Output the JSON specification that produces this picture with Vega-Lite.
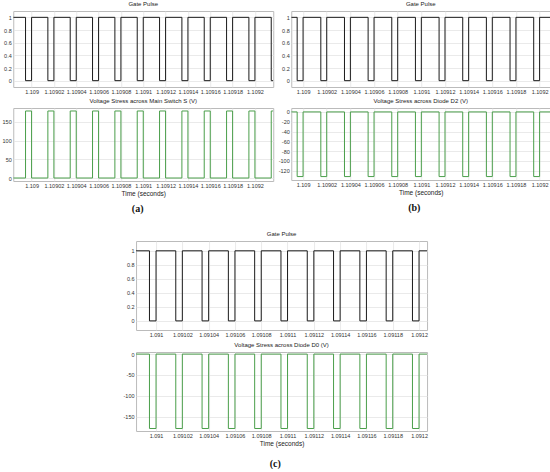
{
  "$schema": "https://vega.github.io/schema/vega-lite/v6.json",
  "padding": {"top": 0, "left": 1, "right": 0, "bottom": 0},
  "background": "white",
  "datasets": {
    "a": [
      {"t": 1.1089836, "g": 1, "v": 0},
      {"t": 1.1089946, "g": 0, "v": 179}, {"t": 1.1090000, "g": 1, "v": 0},
      {"t": 1.1090146, "g": 0, "v": 179}, {"t": 1.1090200, "g": 1, "v": 0},
      {"t": 1.1090346, "g": 0, "v": 179}, {"t": 1.1090400, "g": 1, "v": 0},
      {"t": 1.1090546, "g": 0, "v": 179}, {"t": 1.1090600, "g": 1, "v": 0},
      {"t": 1.1090746, "g": 0, "v": 179}, {"t": 1.1090800, "g": 1, "v": 0},
      {"t": 1.1090946, "g": 0, "v": 179}, {"t": 1.1091000, "g": 1, "v": 0},
      {"t": 1.1091146, "g": 0, "v": 179}, {"t": 1.1091200, "g": 1, "v": 0},
      {"t": 1.1091346, "g": 0, "v": 179}, {"t": 1.1091400, "g": 1, "v": 0},
      {"t": 1.1091546, "g": 0, "v": 179}, {"t": 1.1091600, "g": 1, "v": 0},
      {"t": 1.1091746, "g": 0, "v": 179}, {"t": 1.1091800, "g": 1, "v": 0},
      {"t": 1.1091946, "g": 0, "v": 179}, {"t": 1.1092000, "g": 1, "v": 0},
      {"t": 1.1092146, "g": 0, "v": 179}, {"t": 1.1092164, "g": 0, "v": 179}
    ],
    "b": [
      {"t": 1.1089900, "g": 1, "v": 0},
      {"t": 1.1089950, "g": 0, "v": -132}, {"t": 1.1090000, "g": 1, "v": 0},
      {"t": 1.1090150, "g": 0, "v": -132}, {"t": 1.1090200, "g": 1, "v": 0},
      {"t": 1.1090350, "g": 0, "v": -132}, {"t": 1.1090400, "g": 1, "v": 0},
      {"t": 1.1090550, "g": 0, "v": -132}, {"t": 1.1090600, "g": 1, "v": 0},
      {"t": 1.1090750, "g": 0, "v": -132}, {"t": 1.1090800, "g": 1, "v": 0},
      {"t": 1.1090950, "g": 0, "v": -132}, {"t": 1.1091000, "g": 1, "v": 0},
      {"t": 1.1091150, "g": 0, "v": -132}, {"t": 1.1091200, "g": 1, "v": 0},
      {"t": 1.1091350, "g": 0, "v": -132}, {"t": 1.1091400, "g": 1, "v": 0},
      {"t": 1.1091550, "g": 0, "v": -132}, {"t": 1.1091600, "g": 1, "v": 0},
      {"t": 1.1091750, "g": 0, "v": -132}, {"t": 1.1091800, "g": 1, "v": 0},
      {"t": 1.1091950, "g": 0, "v": -132}, {"t": 1.1092000, "g": 1, "v": 0},
      {"t": 1.1092090, "g": 1, "v": 0}
    ],
    "c": [
      {"t": 1.0909848, "g": 1, "v": 0},
      {"t": 1.0909950, "g": 0, "v": -178}, {"t": 1.0910000, "g": 1, "v": 0},
      {"t": 1.0910150, "g": 0, "v": -178}, {"t": 1.0910200, "g": 1, "v": 0},
      {"t": 1.0910350, "g": 0, "v": -178}, {"t": 1.0910400, "g": 1, "v": 0},
      {"t": 1.0910550, "g": 0, "v": -178}, {"t": 1.0910600, "g": 1, "v": 0},
      {"t": 1.0910750, "g": 0, "v": -178}, {"t": 1.0910800, "g": 1, "v": 0},
      {"t": 1.0910950, "g": 0, "v": -178}, {"t": 1.0911000, "g": 1, "v": 0},
      {"t": 1.0911150, "g": 0, "v": -178}, {"t": 1.0911200, "g": 1, "v": 0},
      {"t": 1.0911350, "g": 0, "v": -178}, {"t": 1.0911400, "g": 1, "v": 0},
      {"t": 1.0911550, "g": 0, "v": -178}, {"t": 1.0911600, "g": 1, "v": 0},
      {"t": 1.0911750, "g": 0, "v": -178}, {"t": 1.0911800, "g": 1, "v": 0},
      {"t": 1.0911950, "g": 0, "v": -178}, {"t": 1.0912000, "g": 1, "v": 0},
      {"t": 1.0912061, "g": 1, "v": 0}
    ]
  },
  "spacing": 16,
  "center": true,
  "vconcat": [
    {
      "spacing": 3,
      "hconcat": [
        {
          "spacing": 2,
          "title": {"text": "(a)", "orient": "bottom", "anchor": "middle", "font": "Liberation Serif", "fontSize": 10, "fontWeight": "bold", "color": "#111", "offset": 6},
          "vconcat": [
            {
              "width": 260, "height": 76,
              "title": "Gate Pulse",
              "data": {"name": "a"},
              "mark": {"type": "line", "interpolate": "step-after", "color": "#1a1a1a", "strokeWidth": 1, "clip": true},
              "encoding": {
                "x": {"field": "t", "type": "quantitative", "scale": {"domain": [1.1089836, 1.1092164], "nice": false, "zero": false},
                      "axis": {"values": [1.109, 1.10902, 1.10904, 1.10906, 1.10908, 1.1091, 1.10912, 1.10914, 1.10916, 1.10918, 1.1092], "format": ".6~g", "title": null}},
                "y": {"field": "g", "type": "quantitative", "scale": {"domain": [-0.1, 1.1], "nice": false, "zero": false},
                      "axis": {"values": [0, 0.2, 0.4, 0.6, 0.8, 1], "format": ".1~f", "title": null}}
              }
            },
            {
              "width": 260, "height": 73,
              "title": "Voltage Stress across Main Switch S (V)",
              "data": {"name": "a"},
              "mark": {"type": "line", "interpolate": "step-after", "color": "#4a9e4a", "strokeWidth": 1, "clip": true},
              "encoding": {
                "x": {"field": "t", "type": "quantitative", "scale": {"domain": [1.1089836, 1.1092164], "nice": false, "zero": false},
                      "axis": {"values": [1.109, 1.10902, 1.10904, 1.10906, 1.10908, 1.1091, 1.10912, 1.10914, 1.10916, 1.10918, 1.1092], "format": ".6~g", "title": "Time (seconds)"}},
                "y": {"field": "v", "type": "quantitative", "scale": {"domain": [-8, 187], "nice": false, "zero": false},
                      "axis": {"values": [0, 50, 100, 150], "format": "d", "title": null}}
              }
            }
          ]
        },
        {
          "spacing": 2,
          "title": {"text": "(b)", "orient": "bottom", "anchor": "middle", "font": "Liberation Serif", "fontSize": 10, "fontWeight": "bold", "color": "#111", "offset": 6},
          "vconcat": [
            {
              "width": 259, "height": 76,
              "title": "Gate Pulse",
              "data": {"name": "b"},
              "mark": {"type": "line", "interpolate": "step-after", "color": "#1a1a1a", "strokeWidth": 1, "clip": true},
              "encoding": {
                "x": {"field": "t", "type": "quantitative", "scale": {"domain": [1.10899, 1.109209], "nice": false, "zero": false},
                      "axis": {"values": [1.109, 1.10902, 1.10904, 1.10906, 1.10908, 1.1091, 1.10912, 1.10914, 1.10916, 1.10918, 1.1092], "format": ".6~g", "title": null}},
                "y": {"field": "g", "type": "quantitative", "scale": {"domain": [-0.1, 1.1], "nice": false, "zero": false},
                      "axis": {"values": [0, 0.2, 0.4, 0.6, 0.8, 1], "format": ".1~f", "title": null}}
              }
            },
            {
              "width": 259, "height": 72,
              "title": "Voltage Stress across Diode D2 (V)",
              "data": {"name": "b"},
              "mark": {"type": "line", "interpolate": "step-after", "color": "#4a9e4a", "strokeWidth": 1, "clip": true},
              "encoding": {
                "x": {"field": "t", "type": "quantitative", "scale": {"domain": [1.10899, 1.109209], "nice": false, "zero": false},
                      "axis": {"values": [1.109, 1.10902, 1.10904, 1.10906, 1.10908, 1.1091, 1.10912, 1.10914, 1.10916, 1.10918, 1.1092], "format": ".6~g", "title": "Time (seconds)"}},
                "y": {"field": "v", "type": "quantitative", "scale": {"domain": [-139, 8], "nice": false, "zero": false},
                      "axis": {"values": [0, -20, -40, -60, -80, -100, -120], "format": "d", "labelExpr": "replace(datum.label, '−', '-')", "title": null}}
              }
            }
          ]
        }
      ]
    },
    {
      "spacing": 3,
      "title": {"text": "(c)", "orient": "bottom", "anchor": "middle", "font": "Liberation Serif", "fontSize": 10, "fontWeight": "bold", "color": "#111", "offset": 11},
      "vconcat": [
        {
          "width": 291, "height": 89,
          "title": "Gate Pulse",
          "data": {"name": "c"},
          "mark": {"type": "line", "interpolate": "step-after", "color": "#1a1a1a", "strokeWidth": 1, "clip": true},
          "encoding": {
            "x": {"field": "t", "type": "quantitative", "scale": {"domain": [1.0909848, 1.0912061], "nice": false, "zero": false},
                  "axis": {"values": [1.091, 1.09102, 1.09104, 1.09106, 1.09108, 1.0911, 1.09112, 1.09114, 1.09116, 1.09118, 1.0912], "format": ".6~g", "title": null}},
            "y": {"field": "g", "type": "quantitative", "scale": {"domain": [-0.13, 1.14], "nice": false, "zero": false},
                  "axis": {"values": [0, 0.2, 0.4, 0.6, 0.8, 1], "format": ".1~f", "title": null}}
          }
        },
        {
          "width": 291, "height": 79,
          "title": "Voltage Stress across Diode D0 (V)",
          "data": {"name": "c"},
          "mark": {"type": "line", "interpolate": "step-after", "color": "#4a9e4a", "strokeWidth": 1, "clip": true},
          "encoding": {
            "x": {"field": "t", "type": "quantitative", "scale": {"domain": [1.0909848, 1.0912061], "nice": false, "zero": false},
                  "axis": {"values": [1.091, 1.09102, 1.09104, 1.09106, 1.09108, 1.0911, 1.09112, 1.09114, 1.09116, 1.09118, 1.0912], "format": ".6~g", "title": "Time (seconds)"}},
            "y": {"field": "v", "type": "quantitative", "scale": {"domain": [-184, 5], "nice": false, "zero": false},
                  "axis": {"values": [0, -50, -100, -150], "format": "d", "labelExpr": "replace(datum.label, '−', '-')", "title": null}}
          }
        }
      ]
    }
  ],
  "config": {
    "font": "Liberation Sans",
    "view": {"stroke": "#bbbbbb", "strokeWidth": 1},
    "axis": {"labelFontSize": 5.5, "labelColor": "#333", "ticks": false, "domain": false, "gridColor": "#e4e4e4", "gridWidth": 0.8, "labelPadding": 2, "labelOverlap": false, "labelFlush": false, "titleFontSize": 6.5, "titleFontWeight": "normal", "titleColor": "#222", "titlePadding": 2},
    "title": {"fontSize": 6, "fontWeight": "normal", "color": "#222", "offset": 4}
  }
}
